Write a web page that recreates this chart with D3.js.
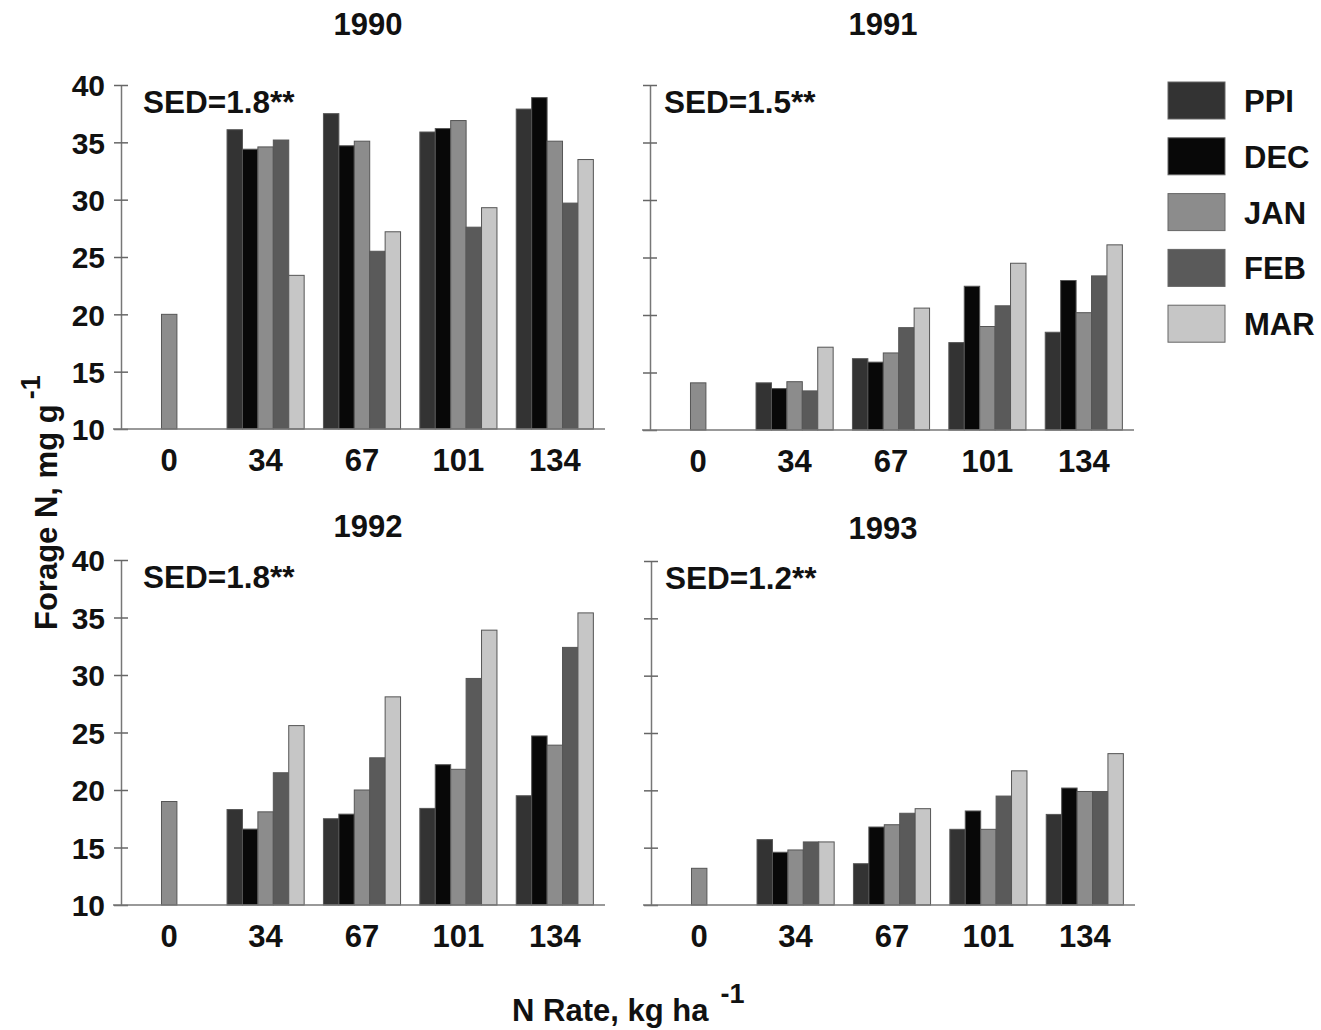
<!DOCTYPE html>
<html>
  <head>
    <meta charset="utf-8">
    <script src="https://d3js.org/d3.v7.min.js" type="text/JavaScript"></script>
    <style>
      body { margin: 0; background: #fff; }
      text { font-family: "Liberation Sans", Arial, Helvetica, sans-serif; font-weight: bold; fill: #111; }
    </style>
  </head>
  <body>
    <svg></svg>
    <script>
// N rates (kg/ha) and application timings
var rates = ['0', '34', '67', '101', '134'];
var series = ['PPI', 'DEC', 'JAN', 'FEB', 'MAR'];
var years = ['1990', '1991', '1992', '1993'];
var sedLabels = ['SED=1.8**', 'SED=1.5**', 'SED=1.8**', 'SED=1.2**'];
var yTicks = [10, 15, 20, 25, 30, 35, 40];

// forage N, mg/g -- rows follow series, columns follow rates
var n1990 = [
  [null, 36.1, 37.5, 35.9, 37.9],
  [null, 34.4, 34.7, 36.2, 38.9],
  [20.0, 34.6, 35.1, 36.9, 35.1],
  [null, 35.2, 25.5, 27.6, 29.7],
  [null, 23.4, 27.2, 29.3, 33.5]
];
var n1991 = [
  [null, 14.1, 16.2, 17.6, 18.5],
  [null, 13.6, 15.9, 22.5, 23.0],
  [14.1, 14.2, 16.7, 19.0, 20.2],
  [null, 13.4, 18.9, 20.8, 23.4],
  [null, 17.2, 20.6, 24.5, 26.1]
];
var n1992 = [
  [null, 18.3, 17.5, 18.4, 19.5],
  [null, 16.6, 17.9, 22.2, 24.7],
  [19.0, 18.1, 20.0, 21.8, 23.9],
  [null, 21.5, 22.8, 29.7, 32.4],
  [null, 25.6, 28.1, 33.9, 35.4]
];
var n1993 = [
  [null, 15.7, 13.6, 16.6, 17.9],
  [null, 14.6, 16.8, 18.2, 20.2],
  [13.2, 14.8, 17.0, 16.6, 19.9],
  [null, 15.5, 18.0, 19.5, 19.9],
  [null, 15.5, 18.4, 21.7, 23.2]
];
var allData = [n1990, n1991, n1992, n1993];

var fills = ['#333333', '#080808', '#8c8c8c', '#5a5a5a', '#c6c6c6'];

var svg = d3.select('svg').attr('width', 1321).attr('height', 1030);

var panels = [
  { ax: 121, top: 85, bottom: 429, titleX: 368, titleY: 35, labels: true },
  { ax: 650, top: 85, bottom: 430, titleX: 883, titleY: 35, labels: false },
  { ax: 121, top: 560, bottom: 905, titleX: 368, titleY: 537, labels: true },
  { ax: 651, top: 561, bottom: 905, titleX: 883, titleY: 539, labels: false }
];

var colorScale = d3.scaleOrdinal().domain(series).range(fills);

panels.forEach(function(p, i) {
  var data = allData[i];
  var x = d3.scaleBand().domain(rates).range([p.ax, p.ax + 482]).paddingInner(0.2).paddingOuter(0.1);
  var xs = d3.scaleBand().domain(series).range([0, x.bandwidth()]);
  var y = d3.scaleLinear().domain([10, 40]).range([p.bottom, p.top]);

  var g = svg.append('g');

  // bars
  var cells = [];
  series.forEach(function(s, si) {
    rates.forEach(function(r, ri) {
      if (data[si][ri] != null) cells.push({ s: s, r: r, v: data[si][ri] });
    });
  });

  g.selectAll('rect')
    .data(cells)
    .enter()
    .append('rect')
      .attr('x', d => x(d.r) + xs(d.s))
      .attr('y', d => y(d.v))
      .attr('width', xs.bandwidth())
      .attr('height', d => y(10) - y(d.v))
      .style('fill', d => colorScale(d.s))
      .style('stroke', '#555')
      .style('stroke-width', '1px');

  // y axis
  var yAxis = d3.axisLeft(y).tickValues(yTicks).tickSizeInner(7).tickSizeOuter(0).tickPadding(9)
    .tickFormat(p.labels ? d3.format('d') : '');
  var ya = g.append('g').attr('transform', 'translate(' + p.ax + ',0)').call(yAxis);
  ya.select('.domain').attr('stroke', '#777').attr('stroke-width', 1.5);
  ya.selectAll('.tick line').attr('x1', -7).attr('x2', 7).attr('stroke', '#666').attr('stroke-width', 1.5);
  ya.selectAll('.tick text').style('font-size', '30px').attr('dy', '0.36em');

  // x axis
  var xAxis = d3.axisBottom(x).tickSize(0).tickPadding(20);
  var xa = g.append('g').attr('transform', 'translate(0,' + p.bottom + ')').call(xAxis);
  xa.select('.domain').attr('stroke', '#777').attr('stroke-width', 1.5)
    .attr('d', 'M' + (p.ax - 8) + ',0H' + (p.ax + 484));
  xa.selectAll('.tick text').style('font-size', '31px');

  // title and SED
  g.append('text')
    .attr('x', p.titleX)
    .attr('y', p.titleY)
    .attr('text-anchor', 'middle')
    .style('font-size', '31px')
    .text(years[i]);

  g.append('text')
    .attr('x', p.ax + (i % 2 === 0 ? 22 : 14))
    .attr('y', p.top + 28)
    .style('font-size', '31.5px')
    .text(sedLabels[i]);
});

// legend
var legend = svg.append('g').attr('transform', 'translate(1168,82)');
var items = legend.selectAll('g')
  .data(series)
  .enter()
  .append('g')
    .attr('transform', (d, i) => 'translate(0,' + (i * 55.8) + ')');

items.append('rect')
  .attr('width', 57)
  .attr('height', 37)
  .style('fill', d => colorScale(d))
  .style('stroke', '#666')
  .style('stroke-width', '1px');

items.append('text')
  .attr('x', 76)
  .attr('y', 30)
  .style('font-size', '31px')
  .text(d => d);

// axis titles
var yl = svg.append('text')
  .attr('transform', 'translate(57,630) rotate(-90)')
  .style('font-size', '31px');
yl.append('tspan').text('Forage N, mg g');
yl.append('tspan').attr('dy', -17).attr('dx', 5).style('font-size', '27px').text('-1');

var xl = svg.append('text')
  .attr('x', 512)
  .attr('y', 1021)
  .style('font-size', '31px');
xl.append('tspan').text('N Rate, kg ha');
xl.append('tspan').attr('dy', -18).attr('dx', 12).style('font-size', '27px').text('-1');
    </script>
  </body>
</html>
